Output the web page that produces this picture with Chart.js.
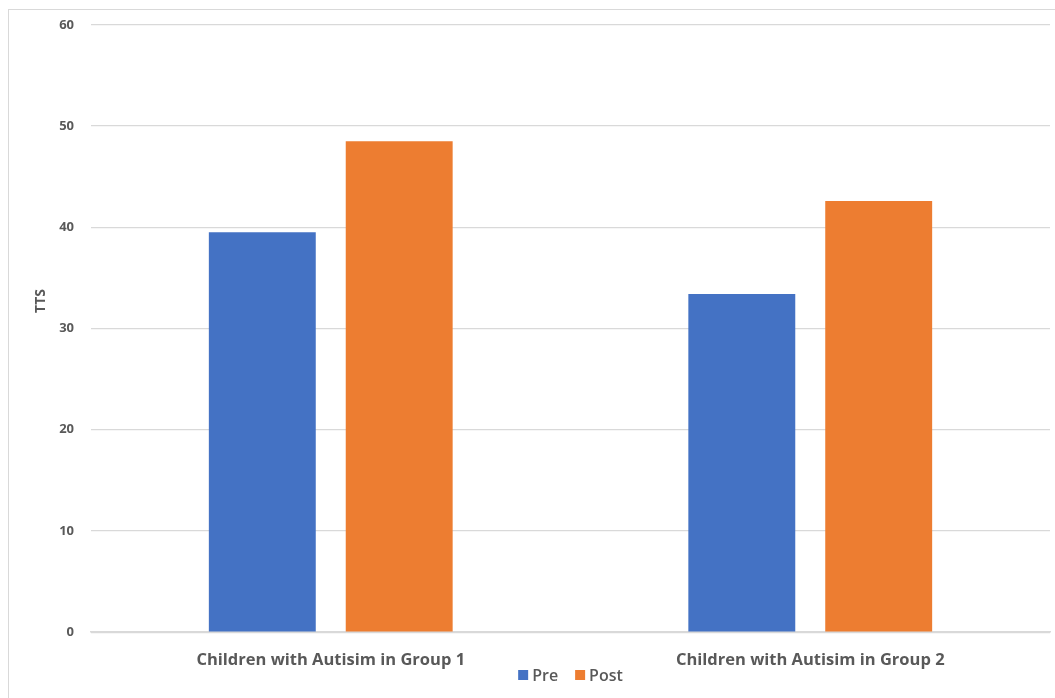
<!DOCTYPE html>
<html>
<head>
<meta charset="utf-8">
<script src="https://cdn.jsdelivr.net/npm/chart.js@4.4.0/dist/chart.umd.min.js"></script>
<style>
  html, body { margin: 0; padding: 0; background: #fff; }
  .wrap { position: relative; width: 1055px; height: 698px; overflow: hidden; }
  .frame {
    position: absolute; left: 8px; top: 9px; width: 1100px; height: 750px;
    border: 1.5px solid #d9d9d9; pointer-events: none;
  }
</style>
</head>
<body>
<div class="wrap">
  <canvas id="barChart" width="1055" height="698"></canvas>
  <div class="frame"></div>
</div>
<script>
  // groups and scores
  const groups = ['Children with Autisim in Group 1', 'Children with Autisim in Group 2'];
  const preScores = [39.5, 33.4];
  const postScores = [48.5, 42.6];
  const yTicks = [0, 10, 20, 30, 40, 50, 60];

  const textGray = '#595959';
  const fontName = "'Open Sans', 'Noto Sans', sans-serif";

  // vertical axis title, drawn beside the tick labels
  const ttsTitle = {
    id: 'ttsTitle',
    afterDraw(chart) {
      const c = chart.ctx;
      c.save();
      c.translate(41, 301);
      c.rotate(-Math.PI / 2);
      c.font = "bold 14px " + fontName;
      c.fillStyle = textGray;
      c.textAlign = 'center';
      c.textBaseline = 'middle';
      c.fillText('TTS', 0, 0);
      c.restore();
    }
  };

  // legend sits between the two category labels, so draw it by hand
  const midLegend = {
    id: 'midLegend',
    afterDraw(chart) {
      const c = chart.ctx;
      const y = 675;
      const box = 10;
      c.save();
      c.font = "600 16px " + fontName;
      c.textBaseline = 'middle';
      c.textAlign = 'left';
      const sets = chart.data.datasets;
      const gap = 17;
      let total = 0;
      sets.forEach((ds, i) => {
        total += box + 4 + c.measureText(ds.label).width + (i < sets.length - 1 ? gap : 0);
      });
      let x = (chart.chartArea.left + chart.chartArea.right) / 2 - total / 2;
      sets.forEach(ds => {
        c.fillStyle = ds.backgroundColor;
        c.fillRect(x, y - box / 2, box, box);
        x += box + 4;
        c.fillStyle = textGray;
        c.fillText(ds.label, x, y + 1);
        x += c.measureText(ds.label).width + gap;
      });
      c.restore();
    }
  };

  var ctx = document.getElementById('barChart').getContext('2d');
  var myBarChart = new Chart(ctx, {
    type: 'bar',
    data: {
      labels: groups,
      datasets: [{
        label: 'Pre',
        data: preScores,
        backgroundColor: '#4472C4',
        borderWidth: 0
      }, {
        label: 'Post',
        data: postScores,
        backgroundColor: '#ED7D31',
        borderWidth: 0
      }]
    },
    options: {
      responsive: false,
      animation: false,
      layout: { padding: { top: 16, right: 5, bottom: 18, left: 0 } },
      datasets: {
        bar: { categoryPercentage: 0.571, barPercentage: 0.781 }
      },
      plugins: {
        legend: { display: false },
        tooltip: { enabled: false }
      },
      scales: {
        x: {
          grid: { display: false },
          border: { color: '#d9d9d9', width: 1.5 },
          ticks: {
            color: textGray,
            padding: 10,
            font: { family: fontName, size: 16.5, weight: 'bold' }
          }
        },
        y: {
          min: 0,
          max: 60,
          afterBuildTicks(scale) { scale.ticks = yTicks.map(v => ({ value: v })); },
          grid: { color: '#d9d9d9', lineWidth: 1.2, drawTicks: false },
          border: { display: false },
          ticks: {
            color: textGray,
            padding: 17,
            font: { family: fontName, size: 13, weight: 'bold' }
          },
          afterFit(scale) { scale.width = 91; }
        }
      }
    },
    plugins: [ttsTitle, midLegend]
  });
</script>
</body>
</html>
